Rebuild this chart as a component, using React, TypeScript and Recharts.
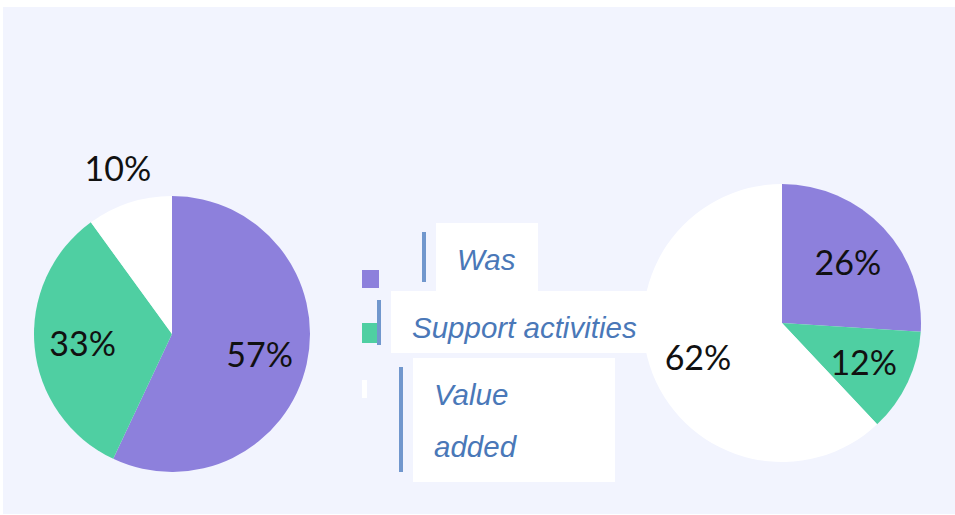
import { PieChart, Pie, Cell, Legend } from 'recharts';

const CATEGORIES = ['Was', 'Support activities', 'Value added'];
const BEFORE = [57, 33, 10];
const AFTER = [26, 12, 62];
const COLORS = ['#8d80dc', '#4fcfa2', '#ffffff'];

const beforeRows = CATEGORIES.map((name, i) => ({ name, value: BEFORE[i] }));
const afterRows = CATEGORIES.map((name, i) => ({ name, value: AFTER[i] }));

const RAD = Math.PI / 180;

function renderLabel({ cx, cy, midAngle, outerRadius, value }: any) {
  // small slices get their label outside the pie
  const r = value <= 10 ? outerRadius * 1.27 : outerRadius * 0.65;
  const x = cx + r * Math.cos(-midAngle * RAD);
  const y = cy + r * Math.sin(-midAngle * RAD);
  return (
    <text x={x} y={y} textAnchor="middle" dominantBaseline="central"
      fill="#111" fontSize={34} fontFamily="Lato, 'Open Sans', sans-serif">
      {`${value}%`}
    </text>
  );
}

// the legend boxes in the source are hand-placed and uneven
const ROW_LAYOUT = [
  { sq: [362, 270, 17, 18], bar: [422, 232, 4, 50], box: [436, 223, 102, 68], tx: 457, ty: [270], wrap: false },
  { sq: [362, 323, 17, 20], bar: [377, 300, 4, 45], box: [391, 291, 259, 62], tx: 412, ty: [338], wrap: false },
  { sq: [362, 380, 5, 18], bar: [399, 367, 4, 105], box: [413, 358, 202, 124], tx: 434, ty: [405, 457], wrap: true },
];

function LegendBoxes({ payload }: any) {
  const list = payload || [];
  return (
    <svg width={955} height={515} style={{ pointerEvents: 'none', display: 'block' }}>
      {CATEGORIES.map((name, i) => {
        const it = list.find((p: any) => p.value === name);
        const L = ROW_LAYOUT[i];
        const color = (it && it.color) || COLORS[i];
        const lines = L.wrap ? name.split(' ') : [name];
        return (
          <g key={name}>
            <rect x={L.sq[0]} y={L.sq[1]} width={L.sq[2]} height={L.sq[3]} fill={color} />
            <rect x={L.box[0]} y={L.box[1]} width={L.box[2]} height={L.box[3]} fill="#ffffff" />
            <rect x={L.bar[0]} y={L.bar[1]} width={L.bar[2]} height={L.bar[3]} fill="#7197cd" />
            {lines.map((ln, j) => (
              <text key={j} x={L.tx} y={L.ty[j]} fill="#4a78b8" fontSize={29.5}
                fontStyle="italic" fontFamily="'Liberation Sans', Arial, sans-serif">
                {ln}
              </text>
            ))}
          </g>
        );
      })}
    </svg>
  );
}

export default function App() {
  return (
    <div style={{ position: 'relative', width: 955, height: 515, background: '#ffffff' }}>
      <style>{'body{margin:0}'}</style>
      <div style={{ position: 'absolute', left: 3, top: 7, width: 952, height: 507, background: '#f2f4fe' }} />
      <div style={{ position: 'absolute', left: 0, top: 0 }}>
        <PieChart width={955} height={515} margin={{ top: 0, right: 0, bottom: 0, left: 0 }}>
          <Pie data={beforeRows} dataKey="value" nameKey="name" cx={172} cy={334} outerRadius={138}
            startAngle={90} endAngle={-270} stroke="none" label={renderLabel} labelLine={false}
            isAnimationActive={false}>
            {beforeRows.map((r, i) => <Cell key={r.name} fill={COLORS[i]} />)}
          </Pie>
          <Pie data={afterRows} dataKey="value" nameKey="name" cx={782} cy={323} outerRadius={139}
            startAngle={90} endAngle={-270} stroke="none" label={renderLabel} labelLine={false}
            isAnimationActive={false}>
            {afterRows.map((r, i) => <Cell key={r.name} fill={COLORS[i]} />)}
          </Pie>
          <Legend layout="vertical" align="center" verticalAlign="middle"
            wrapperStyle={{ left: 0, top: 0, width: 955, height: 515 }}
            content={<LegendBoxes />} />
        </PieChart>
      </div>
    </div>
  );
}
